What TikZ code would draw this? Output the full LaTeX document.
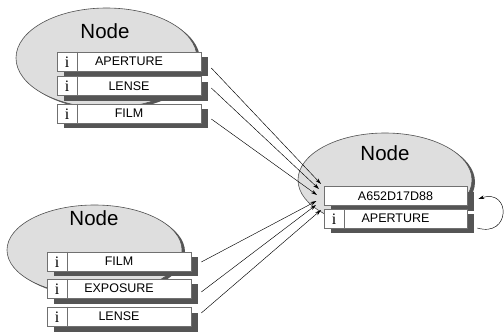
\documentclass[tikz,border=0pt]{standalone}
\usepackage{fontspec}
\setmainfont{Liberation Sans}
\newfontfamily\iserif{Liberation Serif}
\usetikzlibrary{shapes.geometric,shadows,arrows.meta}
\definecolor{ellfill}{HTML}{DEDEDE}
\definecolor{ellline}{HTML}{505050}
\definecolor{shadowc}{HTML}{555555}
\definecolor{boxline}{HTML}{707070}
\tikzset{
  ell/.style={ellipse, draw=ellline, line width=0.6pt, fill=ellfill, inner sep=0pt,
    general shadow={fill=shadowc, shadow xshift=3pt, shadow yshift=-2pt}},
  nodelabel/.style={font=\fontsize{20.5}{22}\selectfont, inner sep=0pt},
  attrbox/.style={rectangle, draw=boxline, line width=0.6pt, fill=white, minimum width=144pt,
    minimum height=19pt, inner sep=0pt, font=\fontsize{12.5}{13}\selectfont,
    general shadow={fill=shadowc, shadow xshift=6.5pt, shadow yshift=-5.5pt}},
  icell/.style={font=\iserif\fontsize{16}{16}\selectfont, inner sep=0pt},
  divider/.style={draw=boxline, line width=0.6pt},
  conn/.style={draw=black, line width=0.45pt, -{Stealth[length=6pt,width=3.6pt]}}
}
\newcommand{\ibox}[4]{% name, position, text, width
  \node[attrbox, minimum width=#4] (#1) at #2 {#3};
  \draw[divider] ([xshift=21pt]#1.north west) -- ([xshift=21pt]#1.south west);
  \node[icell] (#1i) at ([xshift=10.5pt,yshift=-0.5pt]#1.west) {i};
}
\begin{document}
\begin{tikzpicture}[x=1pt,y=-1pt]
\useasboundingbox (0,0) rectangle (504,334);
% top-left node
\node[ell, minimum width=181pt, minimum height=100pt] (e1) at (106.5,58) {};
\node[nodelabel] (l1) at (105,31) {Node};
\ibox{a1}{(129,61.5)}{APERTURE}{144pt}
\ibox{a2}{(129,86)}{LENSE}{144pt}
\ibox{a3}{(129,113.5)}{FILM}{144pt}
% bottom-left node
\node[ell, minimum width=175pt, minimum height=90pt] (e2) at (94.5,250) {};
\node[nodelabel] (l2) at (94,218) {Node};
\ibox{b1}{(119,261.5)}{FILM}{144pt}
\ibox{b2}{(119,288.5)}{EXPOSURE}{144pt}
\ibox{b3}{(119,316.5)}{LENSE}{144pt}
% right node
\node[ell, minimum width=174pt, minimum height=94pt] (e3) at (385,180) {};
\node[nodelabel] (l3) at (385,153) {Node};
\node[attrbox, minimum width=143pt] (r1) at (395.5,196) {A652D17D88};
\ibox{r2}{(395.5,218.5)}{APERTURE}{143pt}
% arrow targets
\coordinate (t1) at (321,184);
\coordinate (t2) at (319,189);
\coordinate (t3) at (317,195);
\coordinate (t4) at (316.5,201);
\coordinate (t5) at (316,205);
\coordinate (t6) at (321,210);
\draw[conn] ([xshift=10pt,yshift=-6.5pt]a1.east) -- (t1);
\draw[conn] ([xshift=10pt,yshift=-2pt]a2.east) -- (t2);
\draw[conn] ([xshift=10pt,yshift=-5.5pt]a3.east) -- (t3);
\draw[conn] ([xshift=10pt,yshift=-0.5pt]b1.east) -- (t4);
\draw[conn] ([xshift=10pt,yshift=-3.5pt]b2.east) -- (t5);
\draw[conn] ([xshift=10pt,yshift=3.5pt]b3.east) -- (t6);
% self loop
\draw[conn] ([xshift=10pt,yshift=-9.5pt]r2.east) .. controls (511,238) and (511,188) .. ([xshift=11pt,yshift=-3pt]r1.east);
\end{tikzpicture}
\end{document}
